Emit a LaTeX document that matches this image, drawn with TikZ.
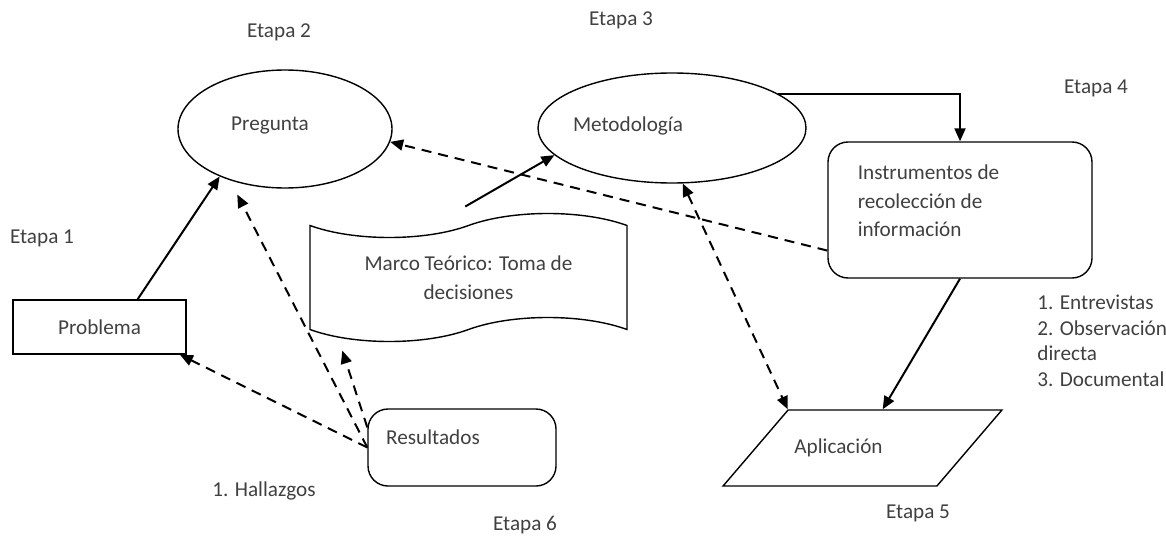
\documentclass[tikz,border=0pt]{standalone}
\usepackage{fontspec}
\setmainfont{Carlito}
\usetikzlibrary{arrows.meta,shapes.geometric,shapes.symbols,calc}

\begin{document}
\begin{tikzpicture}[x=0.5pt,y=-0.5pt,
	font=\fontsize{10.6}{14.3}\selectfont,
	every node/.style={text=black!75},
	box/.style={draw=black,line width=0.7pt},
	tip/.style={-{Triangle[length=6.5pt,width=5.5pt]}},
	link/.style={line width=1pt,tip},
	back/.style={line width=1pt,dash pattern=on 5pt off 3.5pt,tip}]
	
	\useasboundingbox (0,0) rectangle (1166,535);
	
	\node[box,rectangle,minimum width=86.5pt,minimum height=27pt] (problema) at (99.5,327) {Problema};
	\node[box,ellipse,minimum width=107pt,minimum height=59pt,label={[xshift=-7.5pt,yshift=1.5pt]center:Pregunta}] (pregunta) at (285,129) {};
	\node[box,ellipse,minimum width=134pt,minimum height=55pt,label={[xshift=-22pt,yshift=1pt]center:Metodología}] (metodologia) at (672,128) {};
	\node[box,tape,minimum width=158.5pt,minimum height=64pt,tape bend height=12pt,align=center] (marco) at (468.5,277.5) {Marco Teórico: Toma de\\decisiones};
	\node[box,rectangle,rounded corners=10pt,minimum width=132pt,minimum height=68pt,label={[align=left,xshift=-15.75pt,yshift=4.5pt]center:Instrumentos de\\recolección de\\información}] (instrumentos) at (960,210) {};
	\node[box,rectangle,rounded corners=10pt,minimum width=94pt,minimum height=38.5pt,label={[xshift=-14.5pt,yshift=5pt]center:Resultados}] (resultados) at (462,447.5) {};
	\node[box,trapezium,trapezium left angle=66.4,trapezium right angle=113.6,trapezium stretches=true,minimum width=139.5pt,minimum height=38pt,label={[xshift=-12pt]center:Aplicación}] (aplicacion) at (862.5,448) {};
	
	\node (etapa1) at (42,238) {Etapa 1};
	\node (etapa2) at (279,32) {Etapa 2};
	\node (etapa3) at (621,20) {Etapa 3};
	\node (etapa4) at (1096,88) {Etapa 4};
	\node (etapa5) at (918,513) {Etapa 5};
	\node (etapa6) at (525,525) {Etapa 6};
	\node (hallazgos) at (264,491) {1. Hallazgos};
	\node[anchor=north west,inner sep=0pt,align=left,font=\fontsize{10.6}{12.7}\selectfont] (tecnicas) at (1037,295) {1. Entrevistas\\2. Observación\\directa\\3. Documental};
	
	\path[link] (problema.36) edge (pregunta.216);
	\path[link] ([xshift=78pt,yshift=9pt]marco.north west) edge (metodologia.193);
	\draw[link] (metodologia.18) -| (instrumentos.north);
	\path[link] (instrumentos.south) edge ($(aplicacion.top left corner)!0.44!(aplicacion.top right corner)$);
	\path[back] (instrumentos.197) edge (pregunta.353);
	\path[back,{Triangle[length=6.5pt,width=5.5pt]}-{Triangle[length=6.5pt,width=5.5pt]}] (metodologia.281) edge (aplicacion.top left corner);
	\path[back] (resultados.west) edge (problema.341);
	\path[back] (resultados.west) edge[shorten >=8pt] (pregunta.223);
	\path[back] (resultados.168) edge ([xshift=16.5pt,yshift=-10.5pt]marco.south west);

\end{tikzpicture}
\end{document}
